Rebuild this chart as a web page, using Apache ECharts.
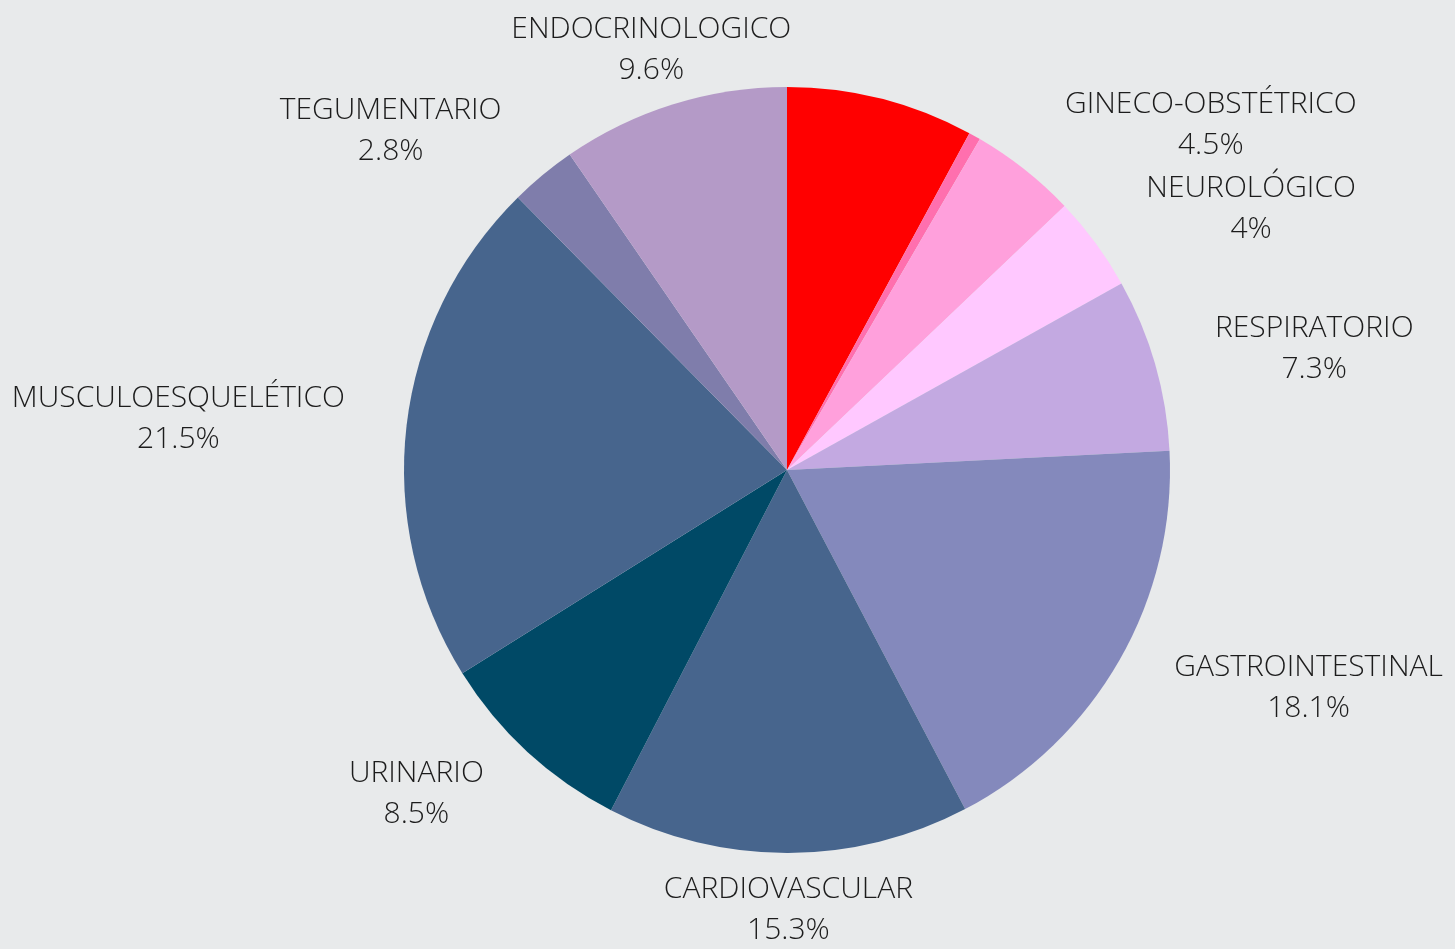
<!DOCTYPE html>
<html>
<head>
<meta charset="utf-8">
<script src="https://cdn.jsdelivr.net/npm/echarts@6/dist/echarts.min.js"></script>
<style>
  html, body { margin: 0; padding: 0; background: #e8eaeb; }
  #chart { width: 1455px; height: 949px; }
</style>
</head>
<body>
<div id="chart"></div>
<script>
// Data (percent, clockwise from 12 o'clock)
const categories = [
  'OTRO', 'OTRO 2', 'GINECO-OBSTÉTRICO', 'NEUROLÓGICO', 'RESPIRATORIO',
  'GASTROINTESTINAL', 'CARDIOVASCULAR', 'URINARIO', 'MUSCULOESQUELÉTICO',
  'TEGUMENTARIO', 'ENDOCRINOLOGICO'
];
const values = [7.9, 0.5, 4.5, 4, 7.3, 18.1, 15.3, 8.5, 21.5, 2.8, 9.6];
const colors = [
  '#ff0000', '#ff6fae', '#ffa0dc', '#ffc8ff', '#c3a9e1',
  '#8489bc', '#47658d', '#004966', '#47658d', '#7f7dab', '#b49ac7'
];
const hiddenLabels = ['OTRO', 'OTRO 2'];
const centeredLabels = ['ENDOCRINOLOGICO', 'CARDIOVASCULAR'];

const chart = echarts.init(document.getElementById('chart'), null, { renderer: 'canvas' });

const data = categories.map((name, i) => {
  const item = { name: name, value: values[i], itemStyle: { color: colors[i] } };
  if (hiddenLabels.includes(name)) item.label = { show: false };
  if (name === 'CARDIOVASCULAR') item.label = { distanceToLabelLine: 0 };
  return item;
});

const textStyle = {
  fontFamily: 'Open Sans',
  fontWeight: 300,
  fontSize: 30,
  lineHeight: 41,
  color: '#1c1c1c',
  align: 'center'
};

chart.setOption({
  backgroundColor: '#e8eaeb',
  animation: false,
  series: [{
    type: 'pie',
    center: [787, 470],
    radius: 383,
    startAngle: 90,
    clockwise: true,
    avoidLabelOverlap: false,
    itemStyle: { borderWidth: 0 },
    label: {
      show: true,
      position: 'outside',
      distanceToLabelLine: 5,
      fontFamily: 'Open Sans',
      fontWeight: 300,
      fontSize: 30,
      lineHeight: 41,
      color: '#1c1c1c',
      formatter: function (p) { return '{n|' + p.name + '}\n{p|' + p.value + '%}'; },
      rich: { n: textStyle, p: textStyle }
    },
    labelLine: { show: false, length: 57, length2: 0 },
    labelLayout: function (params) {
      const name = categories[params.dataIndex];
      if (centeredLabels.includes(name)) return { align: 'center' };
      return {};
    },
    emphasis: { disabled: true },
    data: data
  }]
});
</script>
</body>
</html>
